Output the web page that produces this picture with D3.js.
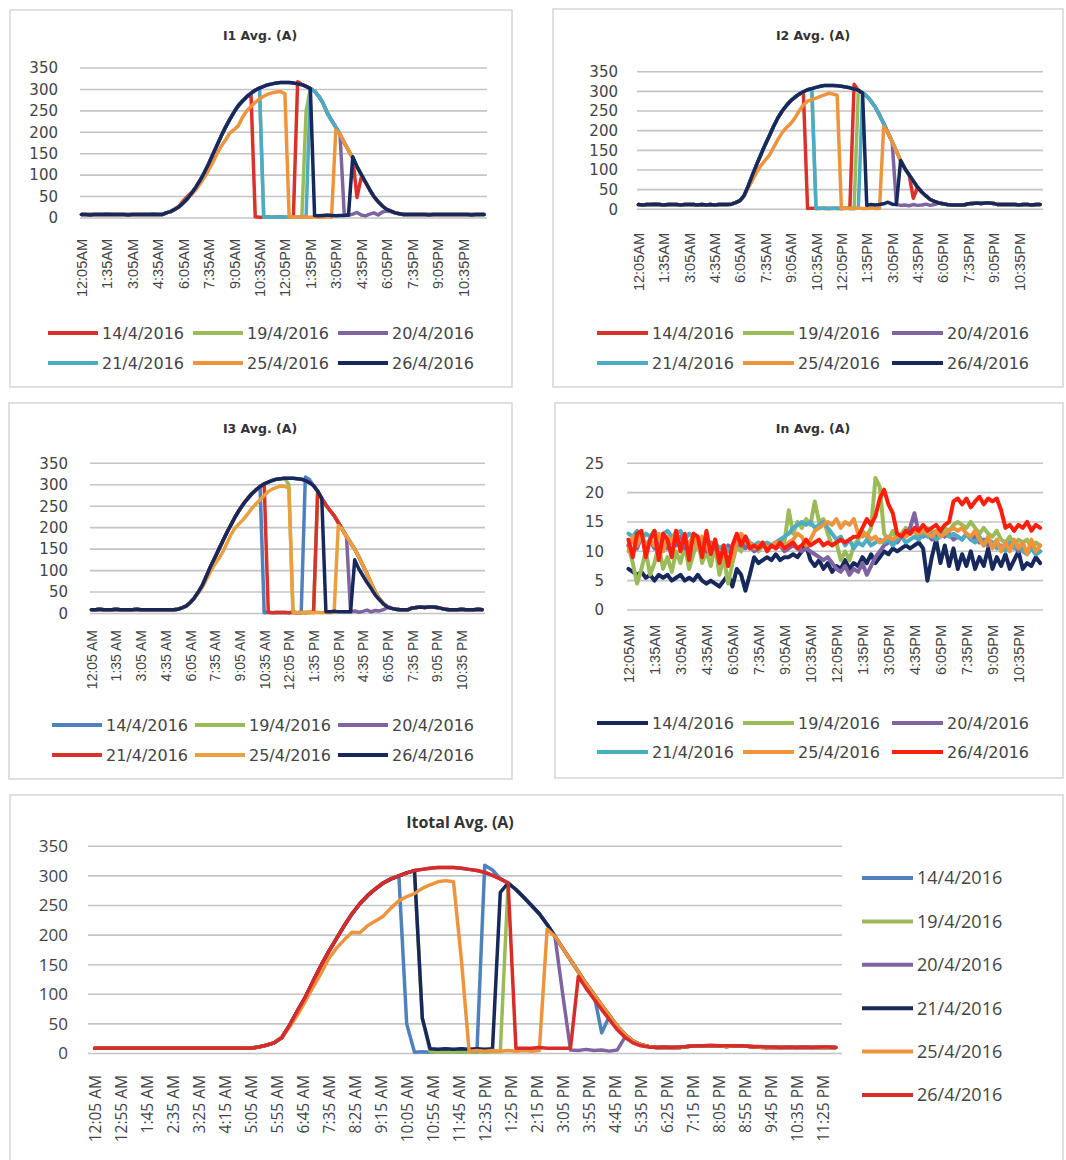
<!DOCTYPE html>
<html>
<head>
<meta charset="utf-8">
<title>Average phase currents, April 2016</title>
<script src="https://d3js.org/d3.v7.min.js"></script>
<style>
  body { margin: 0; background: #fff; }
  svg { display: block; }
  .frame { fill: #fff; stroke: #d6d6d6; stroke-width: 1.5px; }
  .grid line { stroke: #c4c4c4; stroke-width: 1.6px; }
  .axis .domain { display: none; }
  .series { fill: none; stroke-linejoin: round; stroke-linecap: round; }
</style>
</head>
<body>
<script>
// samples every 15 minutes starting at 12:05 AM
var T0 = 5, STEP = 15;

var DATES = ["14/4/2016", "19/4/2016", "20/4/2016", "21/4/2016", "25/4/2016", "26/4/2016"];

var TICKS_AM_PM = ["12:05AM","1:35AM","3:05AM","4:35AM","6:05AM","7:35AM","9:05AM","10:35AM",
  "12:05PM","1:35PM","3:05PM","4:35PM","6:05PM","7:35PM","9:05PM","10:35PM"];
var TICKS_I3 = ["12:05 AM","1:35 AM","3:05 AM","4:35 AM","6:05 AM","7:35 AM","9:05 AM","10:35 AM",
  "12:05 PM","1:35 PM","3:05 PM","4:35 PM","6:05 PM","7:35 PM","9:05 PM","10:35 PM"];
var TICKS_TOTAL = ["12:05 AM","12:55 AM","1:45 AM","2:35 AM","3:25 AM","4:15 AM","5:05 AM","5:55 AM",
  "6:45 AM","7:35 AM","8:25 AM","9:15 AM","10:05 AM","10:55 AM","11:45 AM","12:35 PM","1:25 PM",
  "2:15 PM","3:05 PM","3:55 PM","4:45 PM","5:35 PM","6:25 PM","7:15 PM","8:05 PM","8:55 PM",
  "9:45 PM","10:35 PM","11:25 PM"];

// ---------- I1 ----------
var I1_14 = [8,8,8,8,8,8,8,8, 8,8,8,8,8,8,8,8, 8,8,8,8,12,15,20,28,
  40,50,60,72,88,106,126,148, 170,192,212,230,247,262,273,283, 290,3,2,2,3,2,2,3,
  2,2,3,318,312,307,302,296, 284,268,245,228,212,195,176,158, 140,48,95,84,66,50,38,28,
  20,16,12,10,8,8,8,8, 8,8,8,8,8,8,8,8, 8,8,8,8,8,8,8,8];
var I1_19 = [8,8,8,8,8,8,8,8, 8,8,8,8,8,8,8,8, 8,8,8,8,12,15,20,26,
  35,45,58,72,88,106,126,148, 170,192,212,230,247,262,273,283, 291,298,303,2,2,3,2,2,
  2,3,2,2,3,250,302,296, 284,268,245,228,212,195,176,158, 140,120,102,84,66,50,38,28,
  20,16,12,10,8,8,8,8, 8,8,8,8,8,8,8,8, 8,8,8,8,8,8,8,8];
var I1_20 = [8,8,8,8,8,8,8,8, 8,8,8,8,8,8,8,8, 8,8,8,8,12,15,20,26,
  35,45,58,72,88,106,126,148, 170,192,212,230,247,262,273,283, 291,298,303,307,311,313,315,316,
  316,316,315,313,311,307,302,296, 284,268,245,228,212,195,8,6, 9,13,7,5,9,12,7,14,
  16,15,12,10,8,8,8,8, 8,8,8,8,8,8,8,8, 8,8,8,8,8,8,8,8];
var I1_21 = [8,8,8,8,8,8,8,8, 8,8,8,8,8,8,8,8, 8,8,8,8,12,15,20,26,
  35,45,58,72,88,106,126,148, 170,192,212,230,247,262,273,283, 291,298,303,3,2,2,3,2,
  2,3,2,2,3,3,302,296, 284,268,245,228,212,195,176,158, 140,120,102,84,66,50,38,28,
  20,16,12,10,8,8,8,8, 8,8,8,8,8,8,8,8, 8,8,8,8,8,8,8,8];
var I1_25 = [8,8,8,8,8,8,8,8, 8,8,8,8,8,8,8,8, 8,8,8,8,12,15,20,26,
  36,45,55,66,80,95,112,130, 150,168,182,198,206,215,235,250, 260,270,278,284,289,292,294,295,
  290,3,2,2,3,2,2,3, 2,2,3,2,205,195,176,158, 140,120,102,84,66,50,38,28,
  20,16,12,10,8,8,8,8, 8,8,8,8,8,8,8,8, 8,8,8,8,8,8,8,8];
var I1_26 = [8,8,7,8,8,8,9,8, 8,8,8,7,8,8,8,8, 8,9,8,8,12,15,20,26,
  35,45,58,72,88,106,126,148, 170,192,212,230,247,262,273,283, 291,298,303,307,311,313,315,316,
  316,316,315,313,311,307,302,6, 5,6,7,6,5,6,6,7, 143,120,102,84,66,50,38,28,
  20,16,12,10,8,8,8,8, 8,8,7,8,8,8,8,8, 8,8,8,8,7,8,8,8];

// ---------- I2 ----------
var I2_14 = [12,11,12,12,13,12,11,12, 12,12,11,12,12,12,11,12, 11,12,11,12,12,12,13,17,
  22,35,60,88,115,140,165,188, 212,233,250,264,276,285,293,299, 2,3,2,2,3,2,2,3,
  2,2,3,318,303,296,288,275, 260,240,218,195,172,148,124,104, 88,28,56,44,34,25,20,16,
  14,12,11,11,11,11,14,15, 16,15,16,16,15,12,12,12, 12,12,11,12,12,11,12,12];
var I2_19 = [12,11,12,12,13,12,11,12, 12,12,11,12,12,12,11,12, 11,12,11,12,12,12,13,17,
  22,35,60,88,115,140,165,188, 212,233,250,264,276,285,293,299, 304,307,2,3,2,2,3,2,
  2,3,2,2,303,296,288,275, 260,240,218,195,172,148,124,104, 88,72,56,44,34,25,20,16,
  14,12,11,11,11,11,14,15, 16,15,16,16,15,12,12,12, 12,12,11,12,12,11,12,12];
var I2_20 = [12,11,12,12,13,12,11,12, 12,12,11,12,12,12,11,12, 11,12,11,12,12,12,13,17,
  22,35,60,88,115,140,165,188, 212,233,250,264,276,285,293,299, 304,307,310,313,315,315,315,314,
  313,311,309,306,303,296,288,275, 260,240,218,195,172,12,10,11, 9,12,10,11,13,10,12,16,
  14,12,11,11,11,11,14,15, 16,15,16,16,15,12,12,12, 12,12,11,12,12,11,12,12];
var I2_21 = [12,11,12,12,13,12,11,12, 12,12,11,12,12,12,11,12, 11,12,11,12,12,12,13,17,
  22,35,60,88,115,140,165,188, 212,233,250,264,276,285,293,299, 304,307,2,3,2,2,3,2,
  2,3,2,2,3,296,288,275, 260,240,218,195,172,148,124,104, 88,72,56,44,34,25,20,16,
  14,12,11,11,11,11,14,15, 16,15,16,16,15,12,12,12, 12,12,11,12,12,11,12,12];
var I2_25 = [12,11,12,12,13,12,11,12, 12,12,11,12,12,12,11,12, 11,12,11,12,12,12,13,17,
  22,35,55,75,95,112,125,138, 158,178,195,208,218,232,250,265, 275,279,283,287,291,295,293,290,
  2,3,2,2,3,2,2,3, 2,2,210,195,172,148,124,104, 88,72,56,44,34,25,20,16,
  14,12,11,11,11,11,14,15, 16,15,16,16,15,12,12,12, 12,12,11,12,12,11,12,12];
var I2_26 = [12,11,12,12,13,12,11,12, 12,12,11,12,12,12,11,12, 11,12,11,12,12,12,13,17,
  22,35,60,88,115,140,165,188, 212,233,250,264,276,285,293,299, 304,307,310,313,315,315,315,314,
  313,311,309,306,303,296,10,12, 11,12,14,18,13,12,124,104, 88,72,56,44,34,25,20,16,
  14,12,11,11,11,11,14,15, 16,15,16,16,15,12,12,12, 12,12,11,12,12,11,12,12];

// ---------- I3 ----------
var I3_14 = [9,9,10,9,9,9,10,9, 9,9,9,10,9,9,9,9, 9,9,9,9,9,10,13,17,
  25,36,50,66,88,110,130,150, 170,190,208,226,242,256,268,279, 288,296,2,3,2,2,3,2,
  2,3,2,2,318,312,298,285, 268,253,240,228,212,196,180,165, 150,132,112,92,70,50,34,23,
  16,12,10,9,9,9,13,14, 15,14,15,15,14,12,10,9, 9,9,10,9,9,9,10,9];
var I3_19 = [9,9,10,9,9,9,10,9, 9,9,9,10,9,9,9,9, 9,9,9,9,9,10,13,17,
  25,36,50,66,88,110,130,150, 170,190,208,226,242,256,268,279, 288,296,302,306,310,313,314,315,
  300,3,2,2,3,2,3,285, 268,253,240,228,212,196,180,165, 150,132,112,92,70,50,34,23,
  16,12,10,9,9,9,13,14, 15,14,15,15,14,12,10,9, 9,9,10,9,9,9,10,9];
var I3_20 = [9,9,10,9,9,9,10,9, 9,9,9,10,9,9,9,9, 9,9,9,9,9,10,13,17,
  25,36,50,66,88,110,130,150, 170,190,208,226,242,256,268,279, 288,296,302,306,310,313,314,315,
  315,315,314,313,310,305,298,285, 268,253,240,228,212,196,180,4, 6,3,5,8,4,7,6,9,
  14,12,10,9,9,9,13,14, 15,14,15,15,14,12,10,9, 9,9,10,9,9,9,10,9];
var I3_21 = [9,9,10,9,9,9,10,9, 9,9,9,10,9,9,9,9, 9,9,9,9,9,10,13,17,
  25,36,50,66,88,110,130,150, 170,190,208,226,242,256,268,279, 288,296,302,3,2,3,2,3,
  2,3,2,3,2,3,3,285, 268,253,240,228,212,196,180,165, 150,132,112,92,70,50,34,23,
  16,12,10,9,9,9,13,14, 15,14,15,15,14,12,10,9, 9,9,10,9,9,9,10,9];
var I3_25 = [9,9,10,9,9,9,10,9, 9,9,9,10,9,9,9,9, 9,9,9,9,9,10,13,17,
  25,36,48,62,80,98,115,128, 145,165,185,200,210,220,232,245, 255,265,275,284,290,294,297,296,
  292,3,2,3,2,3,2,3, 2,3,2,3,205,196,180,165, 150,132,112,92,70,50,34,23,
  16,12,10,9,9,9,13,14, 15,14,15,15,14,12,10,9, 9,9,10,9,9,9,10,9];
var I3_26 = [9,9,10,9,9,9,10,9, 9,9,9,10,9,9,9,9, 9,9,9,9,9,10,13,17,
  25,36,50,66,88,110,130,150, 170,190,208,226,242,256,268,279, 288,296,302,306,310,313,314,315,
  315,315,314,313,310,305,298,285, 268,4,4,5,4,4,4,4, 125,104,88,72,58,43,32,22,
  15,12,10,9,9,9,13,14, 15,14,15,15,14,12,10,9, 9,9,10,9,9,9,10,9];

// ---------- In ----------
var IN_14 = [7,6.5,6,6.5,5.5,6,5,6, 5.5,6,5,5.5,6,5,5.5,5, 6,5,4.5,5,4.5,4,5,6,
  4,7,6,3.3,6,9,8,8.5, 9,8.5,9.5,8.5,9,9,9.5,9, 10,11,8.5,7.5,8.5,7,8,6.5,
  7.5,7,8.5,7,8,7.5,9,8, 9.5,8,9,10,9.5,10.5,10,10.5, 11,10.5,11,11.5,10.5,5,9,12,
  8,11,7.5,10.5,7,9.5,7.5,10, 7,9,7.5,10.5,7,9,7.5,9.5, 7,8.5,10,7,8,7.5,9,8];
var IN_19 = [11,8,4.5,7,10,6,8,11, 7,9,6.5,10,8,11,7,9.5, 12,8,10,7.5,11,6,9,4.5,
  8,11,10,12,10.5,11,10,11, 10.5,11,11.5,12,11.5,17,13,15, 14,15.5,14.5,18.5,15,15.5,13,11,
  11.5,8.5,10,8.5,11,12,13.5,12.5, 14,22.5,21,13,12,13.5,12,13, 14,13,13.5,12.5,13,14,13.5,12.5,
  13,14,13.5,14.5,15,14.5,14,15, 14,13,14,13,12.5,13.5,12,11.5, 12.5,11,12,11.5,12,10.5,11.5,11];
var IN_20 = [11,12,10.5,12.5,11,12,10.5,11.5, 12,10.5,12,11,12.5,10.5,11.5,12, 11,12,10,11.5,10.5,9.5,10,11,
  10.5,11,11.5,10.5,11,10,10.5,11, 10.5,11,10.5,11,10,10.5,11,10.5, 10,10.5,10,9.5,9,8.5,9,8,
  7,6.5,7.5,6,7,6.5,8,6, 7.5,9,10,11,11.5,12,11.5,12.5, 13,14,16.5,13,12.5,13,12,12.5,
  13,12.5,13,12,12.5,12,13,12, 12.5,11.5,12,11,11.5,11,10.5,11, 10.5,11,10,10.5,10,10.5,9.5,10];
var IN_21 = [13,12.5,13.5,12,13,12.5,13.5,12, 13,13.5,12.5,13,13.5,12,13,12.5, 12,11.5,12,11,11.5,10.5,11,10,
  10.5,11.5,12,12.5,11.5,11,11.5,11, 11.5,11,11.5,12,12.5,13,14,14.5, 15,14.5,15,14,14.5,15,14,13,
  12,12.5,11,12,10.5,11.5,11,12, 11,11.5,12,11.5,12,11,12,12.5, 11.5,12,12.5,12,13,12.5,13,12,
  12.5,13,12.5,13,12.5,12,13,12, 11.5,12.5,11,12,11.5,10.5,11,10, 11.5,10.5,11,10,9.5,10.5,9.5,10];
var IN_25 = [10,12.5,11,13,10.5,12,11,13, 10,12.5,11.5,13.5,10.5,12,11,13, 10.5,12.5,11,9.5,12,8,10.5,7.5,
  9,11.5,13,12,11.5,10.5,11,11.5, 10.5,11,11.5,11,10.5,11.5,12,13, 12.5,11,12,13.5,14,14.5,15,14.5,
  15.5,14,15,14.5,15.5,13,12.5,13, 12,12.5,11.5,12,12.5,12,12.5,13, 12.5,13,13.5,13,13.5,13,12.5,13.5,
  12.5,13,13.5,14,13.5,14,13,12.5, 13.5,12,11,12.5,10.5,12,10,11.5, 10,12,10.5,11.5,9.5,12,10,11];
var IN_26 = [12,9,13,13.5,9,12,13.5,8.5, 13,12,9,13.5,10,13,8.5,13, 12.5,9,13.5,9.5,12,8,11,7.5,
  11,13,11,12.5,10.5,11,10.5,11.5, 10,11,10.5,11.5,10.5,11,11.5,10.5, 11,12,11,11.5,12,11,11.5,11,
  11.5,12,11.5,12,12.5,12.5,14,15.5, 14.5,16,19,20.5,18,16.5,13,12.5, 13.5,13,14,13.5,14.5,13.5,14,14.5,
  13.5,14.5,15,18.5,19,18,19,17.5, 18.5,19.3,18,19,18.5,19,17,14, 14.5,13.5,14.5,14,15,13.5,14.5,14];

// ---------- Itotal ----------
var IT_14 = [9,9,9,9,9,9,9,9, 9,9,9,9,9,9,9,9, 9,9,9,9,9,11,14,18,
  27,48,72,95,122,148,172,194, 216,236,253,267,278,288,295,300, 50,2,3,2,2,3,2,2,
  3,2,318,310,295,288,277,264, 250,236,218,198,178,158,138,118, 100,35,64,46,32,21,15,12,
  10,10,10,10,12,13,13,13, 13,12,13,13,12,11,10,10, 10,10,10,10,10,10,10,10];
var IT_19 = [9,9,9,9,9,9,9,9, 9,9,9,9,9,9,9,9, 9,9,9,9,9,11,14,18,
  27,48,72,95,122,148,172,194, 216,236,253,267,278,288,295,300, 305,309,60,3,2,3,2,3,
  2,3,2,3,3,288,277,264, 250,236,218,198,178,158,138,118, 100,82,64,46,32,21,15,12,
  10,10,10,10,12,13,13,13, 13,12,13,13,12,11,10,10, 10,10,10,10,10,10,10,10];
var IT_20 = [9,9,9,9,9,9,9,9, 9,9,9,9,9,9,9,9, 9,9,9,9,9,11,14,18,
  27,48,72,95,122,148,172,194, 216,236,253,267,278,288,295,300, 305,309,311,313,314,314,314,313,
  311,309,306,301,295,288,277,264, 250,236,218,198,100,6,5,7, 5,6,4,6,28,21,15,12,
  10,10,10,10,12,13,13,13, 13,12,13,13,12,11,10,10, 10,10,10,10,10,10,10,10];
var IT_21 = [9,9,9,9,9,9,9,9, 9,9,9,9,9,9,9,9, 9,9,9,9,9,11,14,18,
  27,48,72,95,122,148,172,194, 216,236,253,267,278,288,295,300, 305,309,60,8,7,8,7,8,
  7,8,7,8,272,288,277,264, 250,236,218,198,178,158,138,118, 100,82,64,46,32,21,15,12,
  10,10,10,10,12,13,13,13, 13,12,13,13,12,11,10,10, 10,10,10,10,10,10,10,10];
var IT_25 = [9,9,9,9,9,9,9,9, 9,9,9,9,9,9,9,9, 9,9,9,9,9,11,14,18,
  27,45,65,88,112,135,160,178, 192,205,204,216,224,232,246,258, 265,270,279,285,290,292,290,160,
  4,5,4,5,4,5,4,5, 4,5,210,198,178,158,138,118, 100,82,64,46,32,21,15,12,
  10,10,10,10,12,13,13,13, 13,12,13,13,12,11,10,10, 10,10,10,10,10,10,10,10];
var IT_26 = [9,9,9,9,9,9,9,9, 9,9,9,9,9,9,9,9, 9,9,9,9,9,11,14,18,
  27,48,72,95,122,148,172,194, 216,236,253,267,278,288,295,300, 305,309,311,313,314,314,314,313,
  311,309,306,301,295,288,9,9, 9,10,9,9,9,9,130,110, 92,74,57,40,27,18,13,11,
  10,11,10,11,12,13,13,14, 13,13,13,13,12,12,11,11, 10,11,10,11,10,11,11,10];

var RED = "#d9322a", GREEN = "#9bbb59", PURPLE = "#7f64a2", TEAL = "#4bacc6",
    ORANGE = "#ee943d", NAVY = "#16285c", STEEL = "#4f81bd", BRIGHT_RED = "#ff1e0c";

var SMALL_FONTS = {
  title: "bold 12.5px 'DejaVu Sans'",
  y: "15px 'DejaVu Sans'",
  x: "14.5px 'Liberation Sans'",
  legend: "16px 'DejaVu Sans'"
};

var PANELS = [
  { title: "I1 Avg. (A)", box: [10, 10, 512, 387], xr: [80, 487], yr: [218, 68], yMax: 350, yStep: 50,
    yLabelX: 58, xLabelTop: 239, titleX: 260, titleY: 40, ticks: TICKS_AM_PM, tickStep: 90,
    fonts: SMALL_FONTS, lw: 3.5,
    series: [I1_14, I1_19, I1_20, I1_21, I1_25, I1_26], colors: [RED, GREEN, PURPLE, TEAL, ORANGE, NAVY],
    legend: { cols: [48, 193, 338], rows: [333, 363], len: 50 } },
  { title: "I2 Avg. (A)", box: [553, 9, 1063, 387], xr: [637, 1043], yr: [209.3, 71.7], yMax: 350, yStep: 50,
    yLabelX: 618, xLabelTop: 233, titleX: 813, titleY: 40, ticks: TICKS_AM_PM, tickStep: 90,
    fonts: SMALL_FONTS, lw: 3.5,
    series: [I2_14, I2_19, I2_20, I2_21, I2_25, I2_26], colors: [RED, GREEN, PURPLE, TEAL, ORANGE, NAVY],
    legend: { cols: [597, 743, 892], rows: [333, 363], len: 51 } },
  { title: "I3 Avg. (A)", box: [9, 403, 512, 779], xr: [90, 485], yr: [613.5, 463.3], yMax: 350, yStep: 50,
    yLabelX: 68, xLabelTop: 630, titleX: 260, titleY: 433, ticks: TICKS_I3, tickStep: 90,
    fonts: { title: SMALL_FONTS.title, y: SMALL_FONTS.y, x: "14px 'Liberation Sans'", legend: SMALL_FONTS.legend }, lw: 3.5,
    series: [I3_14, I3_19, I3_20, I3_21, I3_25, I3_26], colors: [STEEL, GREEN, PURPLE, RED, "#e9a040", NAVY],
    legend: { cols: [52, 195, 338], rows: [725, 755], len: 50 } },
  { title: "In Avg. (A)", box: [555, 403, 1063, 778], xr: [627, 1043], yr: [610, 463.3], yMax: 25, yStep: 5,
    yLabelX: 604, xLabelTop: 625, titleX: 813, titleY: 433, ticks: TICKS_AM_PM, tickStep: 90,
    fonts: SMALL_FONTS, lw: 4,
    series: [IN_14, IN_19, IN_20, IN_21, IN_25, IN_26], colors: [NAVY, GREEN, PURPLE, TEAL, ORANGE, BRIGHT_RED],
    legend: { cols: [597, 743, 892], rows: [723, 752], len: 51 } },
  { title: "Itotal Avg. (A)", box: [10, 795, 1063, 1175], xr: [92, 841], grid: [88, 842], yr: [1053.5, 846.3],
    yMax: 350, yStep: 50, yLabelX: 68, xLabelTop: 1075, titleX: 460, titleY: 828, ticks: TICKS_TOTAL, tickStep: 50,
    fonts: { title: "bold 16px 'Open Sans'", y: "17px 'Open Sans'", x: "15.5px 'Open Sans'", legend: "18px 'Open Sans'" },
    lw: 3.5,
    series: [IT_14, IT_19, IT_20, IT_21, IT_25, IT_26], colors: [STEEL, GREEN, PURPLE, NAVY, ORANGE, "#d72c29"],
    legend: { x: 862, len: 51, top: 878, gap: 43.4 } }
];

var svg = d3.select("body").append("svg")
    .attr("width", 1066)
    .attr("height", 1160);

PANELS.forEach(drawPanel);

function drawPanel(p) {
  var g = svg.append("g");

  g.append("rect")
      .attr("class", "frame")
      .attr("x", p.box[0]).attr("y", p.box[1])
      .attr("width", p.box[2] - p.box[0])
      .attr("height", p.box[3] - p.box[1]);

  var x = d3.scaleLinear().domain([0, 1440]).range(p.xr);
  var y = d3.scaleLinear().domain([0, p.yMax]).range(p.yr);
  var grid = p.grid || p.xr;
  var yTicks = d3.range(0, p.yMax + p.yStep / 2, p.yStep);

  g.append("g")
      .attr("class", "grid")
    .selectAll("line")
    .data(yTicks)
    .join("line")
      .attr("x1", grid[0]).attr("x2", grid[1])
      .attr("y1", function(d) { return y(d); })
      .attr("y2", function(d) { return y(d); });

  // y axis labels
  var yAxis = d3.axisLeft(y).tickValues(yTicks).tickSize(0).tickPadding(0);
  g.append("g")
      .attr("class", "axis")
      .attr("transform", "translate(" + p.yLabelX + ",0)")
      .call(yAxis)
    .selectAll("text")
      .style("font", p.fonts.y)
      .attr("fill", "#444");

  // x axis labels, rotated
  var tickMinutes = p.ticks.map(function(t, i) { return T0 + i * p.tickStep; });
  var xAxis = d3.axisBottom(x)
      .tickValues(tickMinutes)
      .tickFormat(function(d, i) { return p.ticks[i]; })
      .tickSize(0);
  var y0 = y(0);
  g.append("g")
      .attr("class", "axis")
      .attr("transform", "translate(0," + y0 + ")")
      .call(xAxis)
    .selectAll("text")
      .style("font", p.fonts.x)
      .attr("fill", "#444")
      .attr("text-anchor", "end")
      .attr("transform", "rotate(-90)")
      .attr("x", -(p.xLabelTop - y0))
      .attr("y", 0)
      .attr("dy", "0.35em");

  // series lines
  var line = d3.line()
      .x(function(d, i) { return x(T0 + i * STEP); })
      .y(function(d) { return y(d); });

  g.append("g")
    .selectAll("path")
    .data(p.series)
    .join("path")
      .attr("class", "series")
      .attr("d", line)
      .attr("stroke", function(d, i) { return p.colors[i]; })
      .attr("stroke-width", p.lw);

  // title
  g.append("text")
      .attr("x", p.titleX)
      .attr("y", p.titleY)
      .attr("text-anchor", "middle")
      .style("font", p.fonts.title)
      .attr("fill", "#333")
      .text(p.title);

  // legend
  var L = p.legend;
  var items = g.append("g").selectAll("g")
    .data(DATES)
    .join("g")
      .attr("transform", function(d, i) {
        if (L.cols) return "translate(" + L.cols[i % 3] + "," + L.rows[Math.floor(i / 3)] + ")";
        return "translate(" + L.x + "," + (L.top + i * L.gap) + ")";
      });
  items.append("line")
      .attr("x1", 0).attr("x2", L.len)
      .attr("stroke", function(d, i) { return p.colors[i]; })
      .attr("stroke-width", 4);
  items.append("text")
      .attr("x", L.len + 4)
      .attr("dy", "0.36em")
      .style("font", p.fonts.legend)
      .attr("fill", "#444")
      .text(function(d) { return d; });
}
</script>
</body>
</html>
